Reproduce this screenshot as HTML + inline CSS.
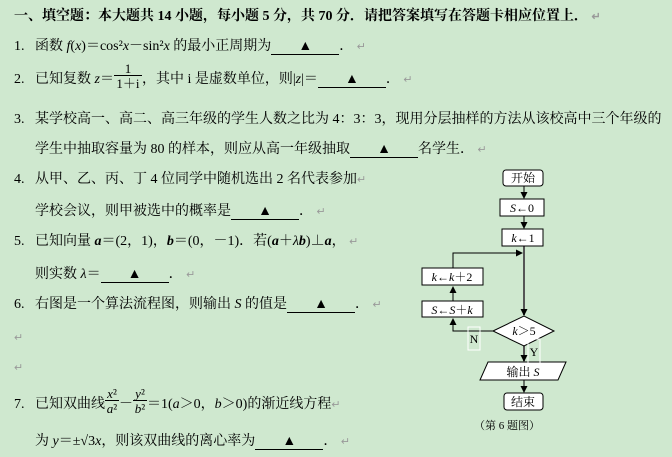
<!DOCTYPE html>
<html><head><meta charset="utf-8"><style>
body{margin:0;width:672px;height:457px;background:#cfe8cf;overflow:hidden;position:relative;font-family:"Liberation Serif","Noto Serif CJK SC",serif;font-size:14px;color:#000}
.l{position:absolute;left:14px;height:18px;line-height:18px;white-space:nowrap}
.i{position:absolute;left:35px;height:18px;line-height:18px;white-space:nowrap}
.u{display:inline-block;width:68px;border-bottom:1px solid #000;text-align:center;line-height:15px}
.r{color:#999;font-size:11px}
i{font-style:italic}
.b{font-weight:bold}
.fr{display:inline-block;position:relative;height:14px;vertical-align:-2px;font-size:13px}
.fr span{position:absolute;left:0;right:0;text-align:center;line-height:13px}
.fr .t{top:-9px;border-bottom:1px solid #000}
.fr .d{top:6px}
</style></head><body>
<div class="l b" style="top:8px">一、填空题：本大题共 14 小题，每小题 5 分，共 70 分．请把答案填写在答题卡相应位置上． <span class="r">↵</span></div>
<div class="l" style="top:38px">1.</div><div class="i" style="top:38px">函数 <i>f</i>(<i>x</i>)＝cos²<i>x</i>－sin²<i>x</i> 的最小正周期为<span class="u">▲</span>． <span class="r">↵</span></div>
<div class="l" style="top:71px">2.</div><div class="i" style="top:71px">已知复数 <i>z</i>＝<span class="fr" style="width:28px"><span class="t">1</span><span class="d">1＋i</span></span>，其中 i 是虚数单位，则|<i>z</i>|＝<span class="u">▲</span>． <span class="r">↵</span></div>
<div class="l" style="top:111px">3.</div><div class="i" style="top:111px">某学校高一、高二、高三年级的学生人数之比为 4：3：3，现用分层抽样的方法从该校高中三个年级的</div>
<div class="i" style="top:141px">学生中抽取容量为 80 的样本，则应从高一年级抽取<span class="u">▲</span>名学生． <span class="r">↵</span></div>
<div class="l" style="top:171px">4.</div><div class="i" style="top:171px">从甲、乙、丙、丁 4 位同学中随机选出 2 名代表参加<span class="r">↵</span></div>
<div class="i" style="top:203px">学校会议，则甲被选中的概率是<span class="u">▲</span>． <span class="r">↵</span></div>
<div class="l" style="top:233px">5.</div><div class="i" style="top:233px">已知向量 <i class="b">a</i>＝(2，1)，<i class="b">b</i>＝(0，－1)．若(<i class="b">a</i>＋<i>λ</i><i class="b">b</i>)⊥<i class="b">a</i>， <span class="r">↵</span></div>
<div class="i" style="top:266px">则实数 <i>λ</i>＝<span class="u">▲</span>． <span class="r">↵</span></div>
<div class="l" style="top:296px">6.</div><div class="i" style="top:296px">右图是一个算法流程图，则输出 <i>S</i> 的值是<span class="u">▲</span>． <span class="r">↵</span></div>
<div class="l r" style="top:329px">↵</div>
<div class="l r" style="top:359px">↵</div>
<div class="l" style="top:396px">7.</div><div class="i" style="top:396px">已知双曲线<span class="fr" style="width:14px"><span class="t"><i>x</i>²</span><span class="d"><i>a</i>²</span></span>－<span class="fr" style="width:14px"><span class="t"><i>y</i>²</span><span class="d"><i>b</i>²</span></span>＝1(<i>a</i>＞0，<i>b</i>＞0)的渐近线方程<span class="r">↵</span></div>
<div class="i" style="top:433px">为 <i>y</i>＝±√3<i>x</i>，则该双曲线的离心率为<span class="u">▲</span>． <span class="r">↵</span></div>
<svg style="position:absolute;left:0;top:0" width="672" height="457" font-family="Liberation Serif,Noto Serif CJK SC,serif" font-size="12">
<defs><marker id="a" markerUnits="userSpaceOnUse" markerWidth="7" markerHeight="7" refX="6" refY="3.5" orient="auto"><path d="M0,0L7,3.5L0,7z" fill="#000"/></marker></defs>
<g stroke="#000" fill="none">
<line x1="524" y1="186" x2="524" y2="198" marker-end="url(#a)"/>
<line x1="524" y1="216" x2="524" y2="228" marker-end="url(#a)"/>
<line x1="524" y1="246" x2="524" y2="315" stroke="#555" stroke-width="2" marker-end="url(#a)"/>
<polyline points="453,268 453,253 522,253" marker-end="url(#a)"/>
<line x1="453" y1="301" x2="453" y2="287" marker-end="url(#a)"/>
<polyline points="493,331 453,331 453,319" marker-end="url(#a)"/>
<line x1="524" y1="345" x2="524" y2="361" stroke="#555" stroke-width="2" marker-end="url(#a)"/>
<line x1="524" y1="380" x2="524" y2="392" marker-end="url(#a)"/>
</g>
<g stroke="#000" fill="#fff">
<rect x="503" y="170" width="40" height="16" rx="3"/>
<rect x="500" y="199" width="44" height="17"/>
<rect x="502" y="229" width="41" height="17"/>
<rect x="422" y="268" width="61" height="17"/>
<rect x="422" y="301" width="61" height="16"/>
<polygon points="493,331 524,316 554,331 524,346"/>
<polygon points="488,362 566,362 558,380 480,380"/>
<rect x="504" y="393" width="39" height="17" rx="3"/>
</g>
<rect x="468" y="327" width="12" height="23" fill="none" stroke="#fff"/>
<rect x="528" y="339" width="12" height="25" fill="none" stroke="#fff"/>
<g text-anchor="middle">
<text x="523" y="182">开始</text>
<text x="522" y="212"><tspan font-style="italic">S</tspan>←0</text>
<text x="523" y="242"><tspan font-style="italic">k</tspan>←1</text>
<text x="452" y="281"><tspan font-style="italic">k</tspan>←<tspan font-style="italic">k</tspan>＋2</text>
<text x="452" y="314"><tspan font-style="italic">S</tspan>←<tspan font-style="italic">S</tspan>＋<tspan font-style="italic">k</tspan></text>
<text x="524" y="335"><tspan font-style="italic">k</tspan>＞5</text>
<text x="474" y="343">N</text>
<text x="534" y="356">Y</text>
<text x="523" y="376">输出 <tspan font-style="italic">S</tspan></text>
<text x="523" y="406">结束</text>
<text x="507" y="429" font-size="11">（第 6 题图）</text>
</g>
</svg>
</body></html>
